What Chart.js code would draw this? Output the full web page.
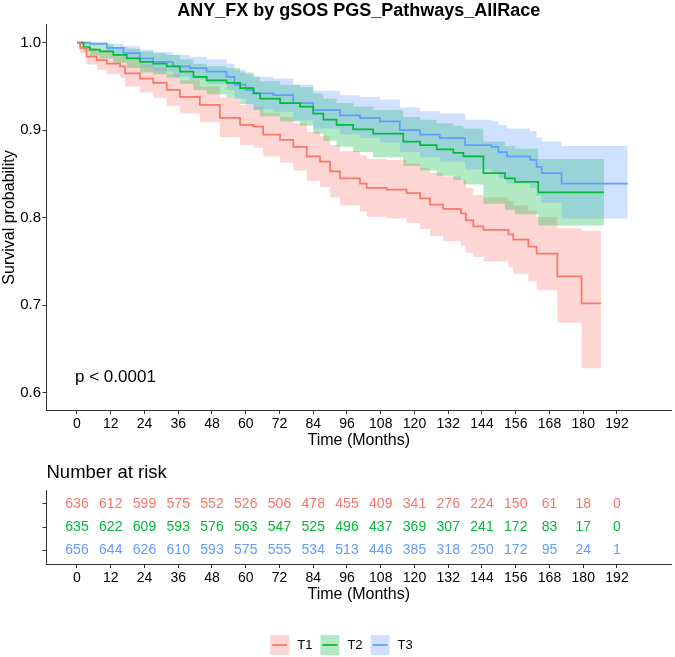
<!DOCTYPE html>
<html>
<head>
<meta charset="utf-8">
<script src="https://cdn.jsdelivr.net/npm/chart.js@4.4.1/dist/chart.umd.min.js"></script>
<style>
  body { margin: 0; background: #fff; }
  canvas { position: absolute; left: 0; }
</style>
</head>
<body>
<canvas id="km" width="675" height="455" style="top:0"></canvas>
<canvas id="risk" width="675" height="202" style="top:455px"></canvas>
<script>
// data
const chartTitle = 'ANY_FX by gSOS PGS_Pathways_AllRace'
const groups = ['T1', 'T2', 'T3']
const xTicks = [0, 12, 24, 36, 48, 60, 72, 84, 96, 108, 120, 132, 144, 156, 168, 180, 192]
const yTicks = [0.6, 0.7, 0.8, 0.9, 1.0]
const pvalText = 'p < 0.0001'

const t1Time = [0, 1.1, 3.4, 7, 10.6, 15.3, 17.1, 22.4, 27.1, 31.9, 36.6, 43.7, 50.8, 58, 62.7, 66.2, 72.2, 76.9, 81.7, 86.4, 90, 93.5, 100.6, 103, 110.1, 117.2, 122, 125.5, 130.2, 136.5, 138.3, 140.9, 144.5, 153.4, 155.1, 160.5, 163.4, 170.8, 179.4, 186.3]
const t1Surv = [1, .994, .984, .980, .976, .973, .965, .959, .954, .946, .938, .929, .914, .906, .904, .895, .889, .881, .870, .864, .853, .845, .839, .834, .832, .828, .822, .815, .810, .805, .797, .790, .786, .781, .775, .767, .759, .733, .702, .702]
const t1Lower = [1, .988, .975, .969, .964, .960, .950, .943, .937, .928, .919, .909, .892, .883, .880, .870, .863, .854, .842, .835, .823, .814, .807, .801, .799, .794, .787, .779, .773, .768, .760, .755, .750, .743, .736, .727, .717, .680, .628, .628]
const t1Upper = [1, 1, .994, .991, .988, .986, .980, .975, .971, .964, .957, .950, .937, .929, .927, .920, .915, .908, .898, .893, .883, .876, .871, .867, .866, .862, .857, .851, .847, .843, .834, .826, .823, .819, .814, .808, .801, .788, .785, .785]

const t2Time = [0, 2.3, 4.6, 8.2, 12.9, 17.7, 22.4, 27.1, 31.9, 36.6, 41.4, 46.1, 53.2, 58, 62.7, 65.1, 72.2, 79.3, 84, 87.6, 92.3, 98.2, 105.3, 116, 122, 127.9, 133.8, 137.4, 144.5, 152.2, 155.7, 164, 187.4]
const t2Surv = [1, .995, .992, .990, .986, .982, .978, .976, .973, .967, .961, .957, .954, .948, .942, .936, .931, .927, .919, .912, .906, .901, .896, .887, .883, .878, .874, .870, .851, .845, .841, .829, .829]
const t2Lower = [1, .990, .985, .982, .977, .971, .966, .964, .960, .953, .946, .941, .937, .930, .923, .916, .910, .905, .896, .888, .881, .875, .869, .859, .854, .848, .843, .838, .816, .809, .804, .791, .791]
const t2Upper = [1, 1, .999, .998, .995, .993, .990, .988, .986, .981, .976, .973, .971, .966, .961, .956, .952, .949, .942, .936, .931, .927, .923, .915, .912, .908, .905, .902, .887, .882, .879, .867, .867]

const t3Time = [0, 4.6, 10.6, 16.5, 22.4, 27.1, 34.2, 40.2, 46.1, 53.2, 56, 60, 63, 69.8, 76.9, 84, 93.5, 100.6, 107.7, 114.8, 122, 129, 138, 147.4, 149.8, 152.8, 161.1, 163.4, 165.2, 172.3, 195.8]
const t3Surv = [1, .999, .994, .988, .982, .978, .973, .971, .967, .961, .952, .946, .942, .940, .931, .923, .917, .914, .910, .900, .895, .891, .883, .881, .875, .870, .866, .858, .851, .839, .839]
const t3Lower = [1, .997, .988, .980, .972, .967, .961, .958, .953, .946, .936, .929, .924, .921, .911, .902, .895, .891, .886, .875, .869, .864, .855, .852, .845, .839, .834, .825, .817, .799, .799]
const t3Upper = [1, 1, .999, .996, .992, .989, .986, .984, .981, .976, .969, .964, .961, .959, .952, .945, .940, .938, .935, .926, .922, .919, .912, .910, .906, .902, .899, .892, .887, .882, .882]

// number at risk
const riskTimes = [0, 12, 24, 36, 48, 60, 72, 84, 96, 108, 120, 132, 144, 156, 168, 180, 192]
const riskT1 = [636, 612, 599, 575, 552, 526, 506, 478, 455, 409, 341, 276, 224, 150, 61, 18, 0]
const riskT2 = [635, 622, 609, 593, 576, 563, 547, 525, 496, 437, 369, 307, 241, 172, 83, 17, 0]
const riskT3 = [656, 644, 626, 610, 593, 575, 555, 534, 513, 446, 385, 318, 250, 172, 95, 24, 1]

// styles
const lineColors = ['#F8766D', '#00BA38', '#619CFF']
const bandColors = ['rgba(248,118,109,0.3)', 'rgba(0,186,56,0.3)', 'rgba(97,156,255,0.3)']
const axisColor = '#333'
const xMin = -10.84, xMax = 211.2

Chart.defaults.font.family = '"Liberation Sans", Arial, sans-serif'
Chart.defaults.color = '#000'

const pts = (xs, ys) => xs.map((x, i) => ({x, y: ys[i]}))

const curves = [
  {time: t1Time, surv: t1Surv, lower: t1Lower, upper: t1Upper},
  {time: t2Time, surv: t2Surv, lower: t2Lower, upper: t2Upper},
  {time: t3Time, surv: t3Surv, lower: t3Lower, upper: t3Upper}
]

// lines first (drawn on top), then bands T3, T2, T1 so T1 band is painted first
const kmDatasets = curves.map((c, i) => ({
  label: groups[i],
  data: pts(c.time, c.surv),
  stepped: true,
  borderColor: lineColors[i],
  borderWidth: 1.7,
  pointRadius: 0,
  fill: false
}))
;[2, 1, 0].forEach(i => {
  const c = curves[i]
  kmDatasets.push({data: pts(c.time, c.lower), stepped: true, borderWidth: 0, pointRadius: 0, fill: false})
  kmDatasets.push({data: pts(c.time, c.upper), stepped: true, borderWidth: 0, pointRadius: 0, fill: '-1', backgroundColor: bandColors[i]})
})

const timeAxis = (height, titlePad) => ({
  type: 'linear',
  min: xMin,
  max: xMax,
  afterBuildTicks: s => { s.ticks = xTicks.map(v => ({value: v})) },
  afterFit: s => { s.height = height },
  ticks: {font: {size: 14}, padding: 2, maxRotation: 0, autoSkip: false},
  grid: {drawOnChartArea: false, tickLength: 4, color: axisColor},
  border: {color: axisColor, width: 1},
  title: {display: true, text: 'Time (Months)', font: {size: 16}, padding: {top: 0, bottom: titlePad}}
})

const pvalPlugin = {
  id: 'pval',
  afterDatasetsDraw(chart) {
    const {ctx, scales: {x, y}} = chart
    ctx.save()
    ctx.font = '17px "Liberation Sans", Arial'
    ctx.fillStyle = '#000'
    ctx.textBaseline = 'middle'
    ctx.fillText(pvalText, x.getPixelForValue(-0.7), y.getPixelForValue(0.618))
    ctx.restore()
  }
}

new Chart('km', {
  type: 'line',
  data: {datasets: kmDatasets},
  options: {
    responsive: false,
    animation: false,
    layout: {padding: {right: 4}},
    plugins: {
      legend: {display: false},
      tooltip: {enabled: false},
      filler: {drawTime: 'beforeDatasetsDraw'},
      title: {display: true, text: chartTitle, fullSize: false, font: {size: 18, weight: 'bold'}, padding: {top: 0, bottom: 3.4}}
    },
    scales: {
      x: timeAxis(45, 4.4),
      y: {
        min: 0.5802,
        max: 1.0202,
        afterBuildTicks: s => { s.ticks = yTicks.map(v => ({value: v})) },
        afterFit: s => { s.width = 46.5 },
        ticks: {font: {size: 15}, padding: 1.5, callback: v => v.toFixed(1)},
        grid: {drawOnChartArea: false, tickLength: 4, color: axisColor},
        border: {color: axisColor, width: 1},
        title: {display: true, text: 'Survival probability', font: {size: 16}, padding: {top: 0, bottom: 0}}
      }
    }
  },
  plugins: [pvalPlugin]
})

// risk table: numbers are drawn at the scatter points
const riskCounts = [riskT1, riskT2, riskT3]

const riskLabels = {
  id: 'riskLabels',
  afterDatasetsDraw(chart) {
    const ctx = chart.ctx
    ctx.save()
    ctx.font = '14px "Liberation Sans", Arial'
    ctx.textAlign = 'center'
    ctx.textBaseline = 'middle'
    chart.data.datasets.forEach((ds, i) => {
      ctx.fillStyle = lineColors[i]
      chart.getDatasetMeta(i).data.forEach((p, j) => ctx.fillText(riskCounts[i][j], p.x, p.y))
    })
    ctx.restore()
  }
}

// ggplot style legend: shaded key with the line through it
const keyLegend = {
  id: 'keyLegend',
  afterDraw(chart) {
    const ctx = chart.ctx
    const boxW = 19, boxH = 20, gap = 8
    ctx.save()
    ctx.font = '13px "Liberation Sans", Arial'
    const widths = groups.map(g => boxW + gap + ctx.measureText(g).width)
    const total = widths.reduce((a, b) => a + b, 0) + gap * (groups.length - 1)
    let x = (chart.width - total) / 2 + 4
    const cy = chart.height - 12
    groups.forEach((g, i) => {
      ctx.fillStyle = bandColors[i]
      ctx.fillRect(x, cy - boxH / 2, boxW, boxH)
      ctx.strokeStyle = lineColors[i]
      ctx.lineWidth = 1.7
      ctx.beginPath()
      ctx.moveTo(x + 2, cy)
      ctx.lineTo(x + boxW - 2, cy)
      ctx.stroke()
      ctx.fillStyle = '#000'
      ctx.textBaseline = 'middle'
      ctx.fillText(g, x + boxW + gap, cy)
      x += widths[i] + gap
    })
    ctx.restore()
  }
}

new Chart('risk', {
  type: 'scatter',
  data: {
    datasets: groups.map((g, i) => ({
      label: g,
      data: riskTimes.map(t => ({x: t, y: i + 1})),
      pointRadius: 0
    }))
  },
  options: {
    responsive: false,
    animation: false,
    layout: {padding: {right: 4, bottom: 40}},
    plugins: {
      legend: {display: false},
      tooltip: {enabled: false},
      title: {display: true, text: 'Number at risk', align: 'start', fullSize: false, font: {size: 18.5, weight: 'normal'}, padding: {top: 6.9, bottom: 5.9}}
    },
    scales: {
      x: timeAxis(53, 12.4),
      y: {
        type: 'linear',
        min: 0.4,
        max: 3.6,
        reverse: true,
        afterBuildTicks: s => { s.ticks = [1, 2, 3].map(v => ({value: v})) },
        afterFit: s => { s.width = 46.5 },
        ticks: {callback: () => ''},
        grid: {drawOnChartArea: false, tickLength: 4, color: axisColor},
        border: {color: axisColor, width: 1}
      }
    }
  },
  plugins: [riskLabels, keyLegend]
})
</script>
</body>
</html>
